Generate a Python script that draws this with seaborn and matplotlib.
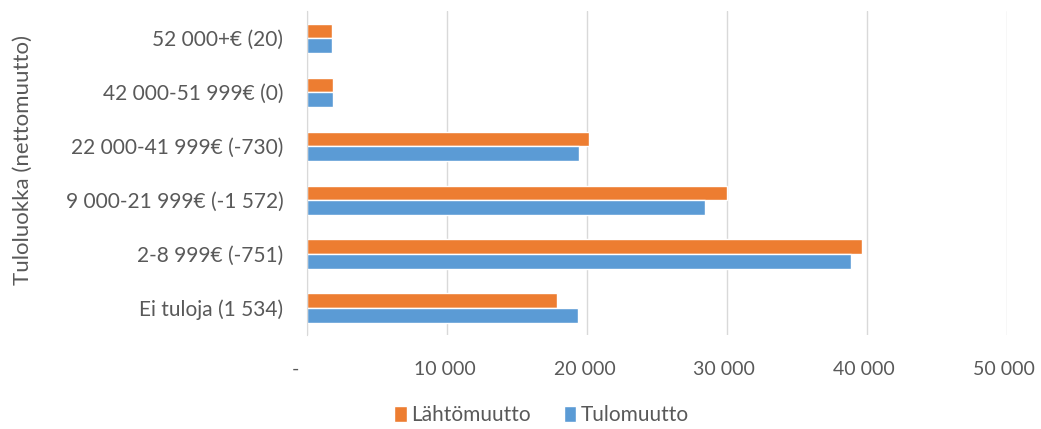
import pandas as pd
import matplotlib.pyplot as plt
import seaborn as sns
from matplotlib.ticker import FuncFormatter

# Tuloluokat ylhäältä alas
luokat = ['52 000+€ (20)', '42 000-51 999€ (0)', '22 000-41 999€ (-730)',
          '9 000-21 999€ (-1 572)', '2-8 999€ (-751)', 'Ei tuloja (1 534)']
lahtomuutto = [1780, 1840, 20150, 30020, 39630, 17830]
tulomuutto = [1800, 1840, 19420, 28448, 38879, 19364]
sarjat = ['Lähtömuutto', 'Tulomuutto']
varit = ['#ED7D31', '#5B9BD5']

data = pd.DataFrame({
    'luokka': luokat * 2,
    'arvo': lahtomuutto + tulomuutto,
    'sarja': [sarjat[0]] * len(luokat) + [sarjat[1]] * len(luokat),
})

sns.set_style('white')
plt.rcParams['font.family'] = ['Lato', 'DejaVu Sans']
teksti = '#595959'

fig = plt.figure(figsize=(10.41, 4.29), dpi=100)
ax = fig.add_axes([0.295, 0.219, 0.672, 0.755])

sns.barplot(data=data, x='arvo', y='luokka', hue='sarja', order=luokat,
            hue_order=sarjat, palette=varit, orient='h', width=0.54,
            saturation=1, ax=ax, legend=True)

ax.set_xlim(0, 50000)
ax.set_xticks(range(0, 50001, 10000))
# Excel-tyylinen kirjanpitomuoto: nolla näytetään viivana
ax.xaxis.set_major_formatter(FuncFormatter(
    lambda v, p: '-' + '\u2007' * 2 if v == 0 else f'{int(v):,}'.replace(',', ' ') + ' '))
ax.grid(axis='x', color='#d9d9d9', linewidth=1)
ax.set_axisbelow(True)
for s in ['top', 'right', 'bottom']:
    ax.spines[s].set_visible(False)
ax.spines['left'].set_color('#d9d9d9')
ax.tick_params(axis='both', length=0, colors=teksti)
ax.tick_params(axis='x', pad=19, labelsize=14)
ax.tick_params(axis='y', pad=17, labelsize=15)
ax.set_xlabel('')
ax.set_ylabel('Tuloluokka (nettomuutto)', color=teksti, fontsize=16)
ax.yaxis.set_label_coords(-0.392, 0.54)

handles, labels = ax.get_legend_handles_labels()
ax.get_legend().remove()
fig.legend(handles, labels, loc='lower center', ncol=2, frameon=False,
           bbox_to_anchor=(0.52, -0.035), fontsize=15, labelcolor=teksti,
           handlelength=0.6, handleheight=0.75, handletextpad=0.2, columnspacing=1.6)

plt.savefig('out.png', dpi=100)
